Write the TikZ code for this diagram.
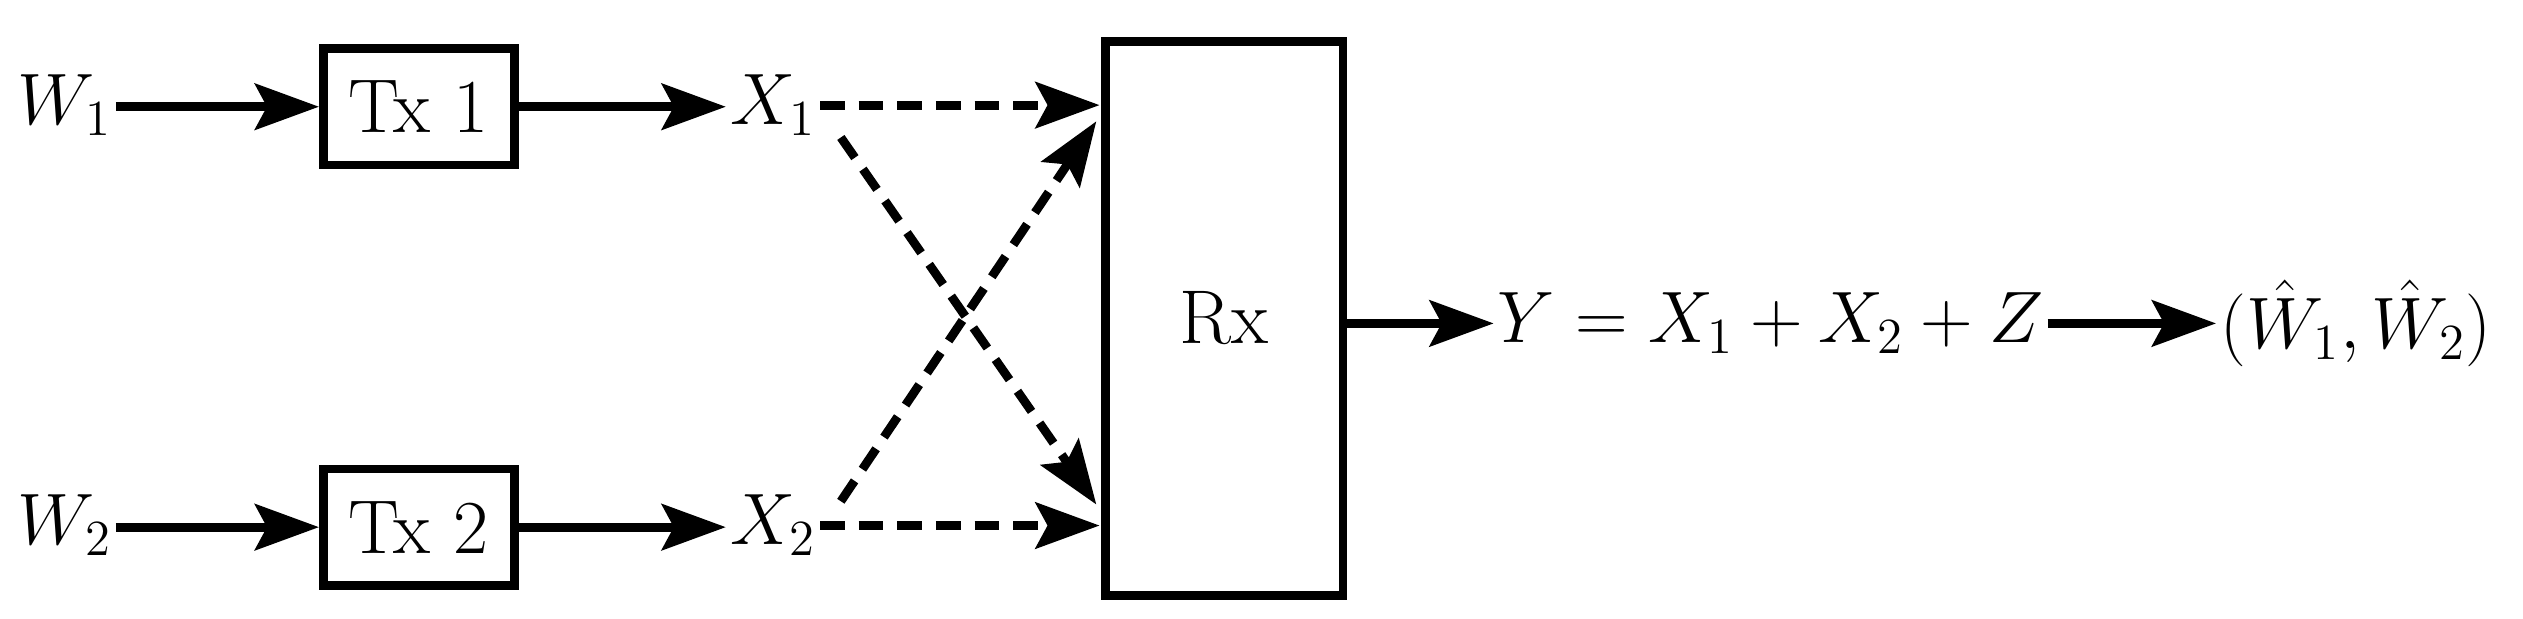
\documentclass[tikz,border=0pt]{standalone}
\usetikzlibrary{arrows.meta}
\begin{document}
\fontsize{21.7}{26}\selectfont
\begin{tikzpicture}[x=0.01617cm,y=-0.01617cm,
  arr/.style={line width=2.5pt,-{Stealth[length=0.64cm,width=0.46cm,inset=0.12cm]}},
  darr/.style={arr,dash pattern=on 7pt off 4pt},
  box/.style={draw,line width=2.5pt,inner sep=0pt},
  lab/.style={inner sep=1pt}]
\useasboundingbox (0,0) rectangle (1560.3,382.2);
\node[lab] (w1) at (40,65) {$W_1$};
\node[lab] (w2) at (40,325) {$W_2$};
\node[box,minimum width=118*0.01617cm,minimum height=72*0.01617cm] (t1) at (259,66) {Tx 1};
\node[box,minimum width=118*0.01617cm,minimum height=72*0.01617cm] (t2) at (259,326) {Tx 2};
\node[lab] (x1) at (478,65) {$X_1$};
\node[lab] (x2) at (478,325) {$X_2$};
\node[box,minimum width=147*0.01617cm,minimum height=343*0.01617cm] (rx) at (757,197) {Rx};
\node[lab] (y) at (1095,200) {$Y = X_1 + X_2 + Z$};
\node[lab] (w) at (1457,200) {$\bigg(\hat W_1,\hat W_2\bigg)$};
\coordinate (a1) at (520,85);
\coordinate (a2) at (520,310);
\coordinate (r1) at (680,65);
\coordinate (r2) at (680,325);
\coordinate (r1b) at (678,75);
\coordinate (r2b) at (678,312);
\draw[arr] (w1.east |- t1.west) -- (t1.west);
\draw[arr] (w2.east |- t2.west) -- (t2.west);
\draw[arr] (t1.east) -- (t1.east -| x1.west);
\draw[arr] (t2.east) -- (t2.east -| x2.west);
\draw[darr] (x1.east |- r1) -- (r1);
\draw[darr] (x2.east |- r2) -- (r2);
\draw[darr] (a1) -- (r2b);
\draw[darr] (a2) -- (r1b);
\draw[arr] (rx.east |- w.west) -- (y.west |- w.west);
\draw[arr] (y.east |- w.west) -- (w.west);
\end{tikzpicture}
\end{document}
